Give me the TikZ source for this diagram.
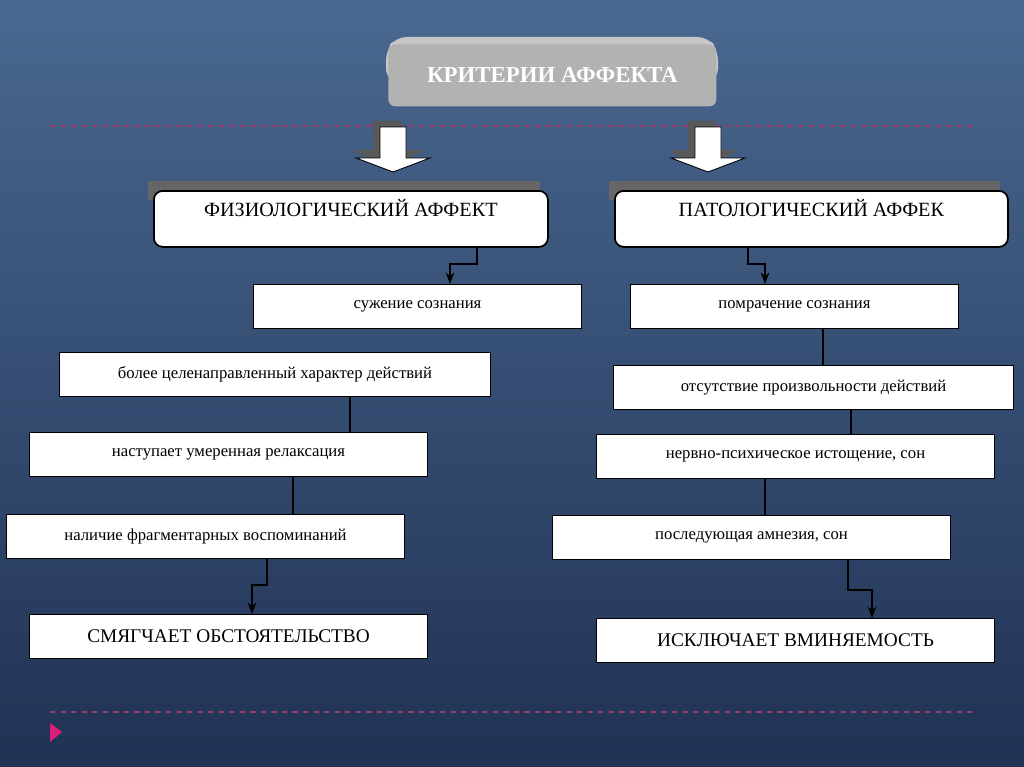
\documentclass[tikz,border=0pt]{standalone}
\usepackage{fontspec}
\setmainfont{Liberation Serif}
\usetikzlibrary{positioning, arrows.meta, calc}
\definecolor{bgTop}{RGB}{74, 104, 144}
\definecolor{bgBottom}{RGB}{32, 50, 84}
\definecolor{lineRose}{RGB}{150, 60, 110}
\definecolor{tipPink}{RGB}{220, 30, 120}
\tikzset{
    item/.style={draw=black, fill=white, line width=0.6pt, font=\fontsize{9.5}{11}\selectfont},
    head/.style={item, rounded corners=5pt, line width=1pt, font=\fontsize{11.5}{14}\selectfont},
    link/.style={draw=black, line width=0.8pt},
    blockarrow/.style={fill=white, draw=black, line width=0.5pt}
}
\newcommand{\boxat}[4]{\node[item, minimum width={(#3)*0.02cm}, minimum height={(#4)*0.02cm}, anchor=north west, inner sep=0pt] (#1) at (#2)}
\begin{document}
\begin{tikzpicture}[x=0.02cm, y=-0.02cm, >=Stealth]
    \shade[top color=bgTop, bottom color=bgBottom] (0,0) rectangle (1024,767);
    \useasboundingbox (0,0) rectangle (1024,767);

    % линии
    \draw[lineRose, dashed, line width=0.6pt] (50,126) -- (975,126);
    \draw[lineRose, dashed, line width=0.6pt] (50,712) -- (975,712);
    \fill[tipPink] (50,723) -- (62,732) -- (50,742) -- cycle;

    % заголовок
    \fill[gray!45, rounded corners=6pt] (396,37) -- (708,37) -- (718,50) -- (718,80) -- (386,80) -- (386,50) -- cycle;
    \node[fill=gray!60!white, rounded corners=4pt, minimum width=328*0.02cm, minimum height=62*0.02cm,
          anchor=north west, text=white, font=\bfseries\fontsize{13}{15}\selectfont] (title) at (388,44) {КРИТЕРИИ АФФЕКТА};

    % стрелки
    \foreach \cx/\nm in {393/arL, 708/arR} {
        \fill[black!65] (\cx-20,121) rectangle (\cx+8,150) (\cx-40,150) -- (\cx+30,150) -- (\cx-5,170) -- cycle;
        \draw[blockarrow] (\cx-13,127) -- (\cx+13,127) -- (\cx+13,158) -- (\cx+37,158) -- (\cx,172)
            -- (\cx-37,158) -- (\cx-13,158) -- cycle;
        \coordinate (\nm) at (\cx,172);
    }

    % шапки
    \fill[black!60] (148,181) rectangle (540,200);
    \fill[black!60] (609,181) rectangle (1000,200);
    \node[head, minimum width=394*0.02cm, minimum height=56*0.02cm, anchor=north west, text depth=12pt] (phys) at (153,190) {ФИЗИОЛОГИЧЕСКИЙ АФФЕКТ};
    \node[head, minimum width=393*0.02cm, minimum height=56*0.02cm, anchor=north west, text depth=12pt] (path) at (614,190) {ПАТОЛОГИЧЕСКИЙ АФФЕК};

    % левая ветвь
    \boxat{l1}{253,284}{328}{44} {сужение сознания};
    \boxat{l2}{59,352}{431}{44} {более целенаправленный характер действий};
    \boxat{l3}{29,432}{398}{44} {наступает умеренная релаксация};
    \boxat{l4}{6,514}{398}{44} {наличие фрагментарных воспоминаний};
    \node[item, minimum width=398*0.02cm, minimum height=44*0.02cm, anchor=north west, inner sep=0pt,
          font=\fontsize{11}{13}\selectfont] (l5) at (29,614) {СМЯГЧАЕТ ОБСТОЯТЕЛЬСТВО};

    % правая ветвь
    \boxat{r1}{630,284}{328}{44} {помрачение сознания};
    \boxat{r2}{613,365}{400}{44} {отсутствие произвольности действий};
    \boxat{r3}{596,434}{398}{44} {нервно-психическое истощение, сон};
    \boxat{r4}{552,515}{398}{44} {последующая амнезия, сон};
    \node[item, minimum width=398*0.02cm, minimum height=44*0.02cm, anchor=north west, inner sep=0pt,
          font=\fontsize{11}{13}\selectfont] (r5) at (596,618) {ИСКЛЮЧАЕТ ВМИНЯЕМОСТЬ};

    % связи
    \draw[link, ->] (phys.south -| 477,0) |- (450,264) -- (l1.north -| 450,0);
    \draw[link, ->] (path.south -| 748,0) |- (765,264) -- (r1.north -| 765,0);
    \draw[link] (l2.south -| 350,0) -- (l3.north -| 350,0);
    \draw[link] (l3.south -| 293,0) -- (l4.north -| 293,0);
    \draw[link, ->] (l4.south -| 267,0) |- (252,585) -- (l5.north -| 252,0);
    \draw[link] (r1.south -| 823,0) -- (r2.north -| 823,0);
    \draw[link] (r2.south -| 851,0) -- (r3.north -| 851,0);
    \draw[link] (r3.south -| 765,0) -- (r4.north -| 765,0);
    \draw[link, ->] (r4.south -| 848,0) |- (872,590) -- (r5.north -| 872,0);
\end{tikzpicture}
\end{document}
